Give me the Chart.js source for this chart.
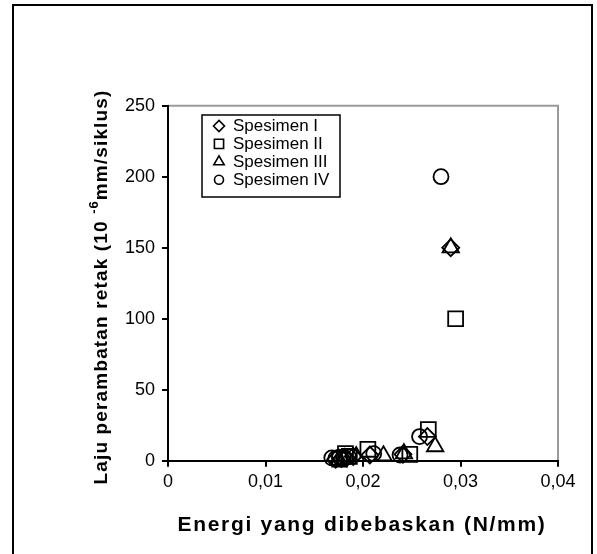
<!DOCTYPE html>
<html>
<head>
<meta charset="utf-8">
<script src="https://cdn.jsdelivr.net/npm/chart.js@4"></script>
<style>
  html, body { margin: 0; padding: 0; background: #fff; }
  canvas { display: block; }
</style>
</head>
<body>
<canvas id="c" width="597" height="554"></canvas>
<script>
// Crack growth rate vs. released energy, four specimens
const seriesNames = ['Spesimen I', 'Spesimen II', 'Spesimen III', 'Spesimen IV'];
const markerStyles = ['rectRot', 'rect', 'triangle', 'circle'];
const markerRadii = [8.5, 10.5, 9.5, 7.5];

// Energi yang dibebaskan (N/mm)
const energyI   = [0.0172, 0.0178, 0.0183, 0.0190, 0.0207, 0.0241, 0.0266, 0.0290];
const energyII  = [0.0176, 0.0182, 0.0186, 0.0205, 0.0248, 0.0267, 0.0295];
const energyIII = [0.0175, 0.0181, 0.0193, 0.0221, 0.0242, 0.0274, 0.0290];
const energyIV  = [0.0168, 0.0172, 0.0176, 0.0180, 0.0185, 0.0211, 0.0238, 0.0258, 0.0280];

// Laju perambatan retak (10^-6 mm/siklus)
const rateI   = [1.0, 1.5, 2.0, 3.0, 4.0, 4.5, 17, 150];
const rateII  = [1.0, 5.0, 3.0, 8.0, 4.5, 22, 100];
const rateIII = [0.5, 1.5, 3.0, 3.5, 5.0, 10, 150];
const rateIV  = [2.0, 1.5, 2.5, 2.0, 3.0, 5.0, 4.0, 17, 200];

const xTicks = [0, 0.01, 0.02, 0.03, 0.04];
const yTicks = [0, 50, 100, 150, 200, 250];

const energies = [energyI, energyII, energyIII, energyIV];
const rates = [rateI, rateII, rateIII, rateIV];

const FONT = '"Liberation Sans", Arial, sans-serif';

const datasets = seriesNames.map((name, i) => ({
  label: name,
  data: energies[i].map((x, k) => ({ x: x, y: rates[i][k] })),
  pointStyle: markerStyles[i],
  pointRadius: markerRadii[i],
  pointHoverRadius: markerRadii[i],
  pointBorderWidth: 1.8,
  borderColor: '#000',
  backgroundColor: 'rgba(0,0,0,0)',
  showLine: false,
  clip: false
}));

const fmtX = v => (v === 0 ? '0' : v.toFixed(2).replace('.', ','));

// Frame, plot border, legend box and axis titles
const decorations = {
  id: 'decorations',
  beforeDraw(chart) {
    const ctx = chart.ctx;
    ctx.save();
    ctx.fillStyle = '#fff';
    ctx.fillRect(0, 0, chart.width, chart.height);
    // outer frame (open at the bottom)
    ctx.strokeStyle = '#000';
    ctx.lineWidth = 2;
    ctx.beginPath();
    ctx.moveTo(13, 560);
    ctx.lineTo(13, 5);
    ctx.lineTo(592, 5);
    ctx.lineTo(592, 560);
    ctx.stroke();
    // grey plot-area border on top and right
    const a = chart.chartArea;
    ctx.strokeStyle = '#9a9a9a';
    ctx.lineWidth = 2;
    ctx.beginPath();
    ctx.moveTo(a.left, a.top);
    ctx.lineTo(a.right, a.top);
    ctx.lineTo(a.right, a.bottom);
    ctx.stroke();
    ctx.restore();
  },
  afterDraw(chart) {
    const ctx = chart.ctx;
    ctx.save();
    // legend
    const lx = 202, ly = 115, lw = 138, lh = 82;
    ctx.strokeStyle = '#000';
    ctx.lineWidth = 1.5;
    ctx.strokeRect(lx, ly, lw, lh);
    const legendRadii = [5.5, 6.5, 6, 4.5];
    chart.data.datasets.forEach((ds, i) => {
      const cy = 126 + i * 17.9;
      ctx.lineWidth = 1.6;
      ctx.strokeStyle = '#000';
      ctx.fillStyle = '#fff';
      Chart.helpers.drawPoint(ctx, {
        pointStyle: ds.pointStyle,
        radius: legendRadii[i],
        rotation: 0,
        borderWidth: 1.6
      }, 219, cy);
      ctx.fillStyle = '#000';
      ctx.font = '17px ' + FONT;
      ctx.textAlign = 'left';
      ctx.textBaseline = 'middle';
      ctx.fillText(ds.label, 233, cy + 0.5);
    });

    // x-axis title
    ctx.fillStyle = '#000';
    ctx.font = 'bold 21px ' + FONT;
    ctx.letterSpacing = '1.7px';
    ctx.textAlign = 'center';
    ctx.textBaseline = 'alphabetic';
    ctx.fillText('Energi yang dibebaskan (N/mm)', 362, 531);

    // y-axis title with superscript exponent
    const p1 = 'Laju perambatan retak (10 ';
    const sup = '-6';
    const p2 = 'mm/siklus)';
    ctx.translate(107, 287);
    ctx.rotate(-Math.PI / 2);
    ctx.textAlign = 'left';
    ctx.font = 'bold 19px ' + FONT;
    ctx.letterSpacing = '1.15px';
    const w1 = ctx.measureText(p1).width;
    const w3 = ctx.measureText(p2).width;
    ctx.font = 'bold 13px ' + FONT;
    ctx.letterSpacing = '1px';
    const w2 = ctx.measureText(sup).width;
    let x0 = -(w1 + w2 + w3) / 2;
    ctx.font = 'bold 19px ' + FONT;
    ctx.letterSpacing = '1.15px';
    ctx.fillText(p1, x0, 0);
    ctx.font = 'bold 13px ' + FONT;
    ctx.letterSpacing = '1px';
    ctx.fillText(sup, x0 + w1, -9);
    ctx.font = 'bold 19px ' + FONT;
    ctx.letterSpacing = '1.15px';
    ctx.fillText(p2, x0 + w1 + w2, 0);
    ctx.restore();
  }
};

new Chart(document.getElementById('c'), {
  type: 'scatter',
  data: { datasets: datasets },
  options: {
    responsive: false,
    animation: false,
    devicePixelRatio: 1,
    layout: { padding: { left: 108, right: 39, top: 105.7, bottom: 53.3 } },
    plugins: { legend: { display: false }, tooltip: { enabled: false } },
    scales: {
      x: {
        type: 'linear',
        min: 0,
        max: 0.04,
        afterBuildTicks: s => { s.ticks = xTicks.map(v => ({ value: v })); },
        afterFit: s => { s.height = 40; },
        ticks: {
          color: '#000',
          font: { family: FONT, size: 18 },
          padding: 5,
          maxRotation: 0,
          callback: v => fmtX(v)
        },
        grid: { drawOnChartArea: false, drawTicks: true, tickLength: 6, color: '#000', lineWidth: 2 },
        border: { color: '#000', width: 2 }
      },
      y: {
        type: 'linear',
        min: 0,
        max: 250,
        afterBuildTicks: s => { s.ticks = yTicks.map(v => ({ value: v })); },
        afterFit: s => { s.width = 60; },
        ticks: {
          color: '#000',
          font: { family: FONT, size: 18 },
          padding: 7,
          callback: v => String(v)
        },
        grid: { drawOnChartArea: false, drawTicks: true, tickLength: 6, color: '#000', lineWidth: 2 },
        border: { color: '#000', width: 2 }
      }
    }
  },
  plugins: [decorations]
});
</script>
</body>
</html>
